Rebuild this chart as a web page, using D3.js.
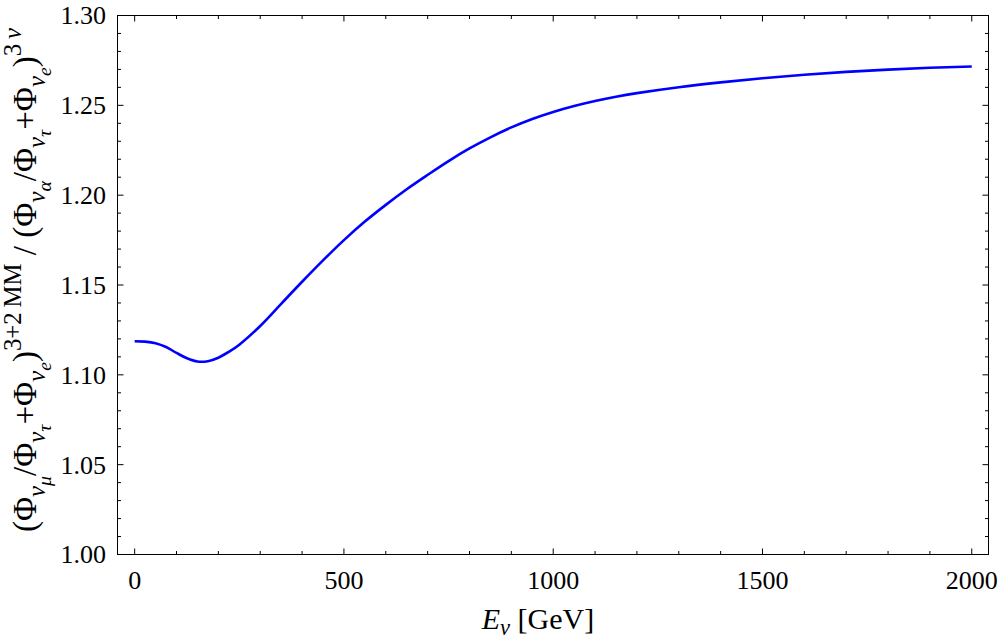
<!DOCTYPE html>
<html lang="en">
  <head>
    <meta charset="utf-8">
    <title>Flux ratio vs energy</title>
    <script src="https://d3js.org/d3.v7.min.js"></script>
    <style>
      body { margin: 0; background: #fff; }
      svg text { font-family: "Liberation Serif", "DejaVu Serif", serif; fill: #000; }
    </style>
  </head>
  <body>
    <svg id="plotarea" width="1000" height="643"></svg>
    <script>
      // values
      var energy = [0, 25, 50, 75, 100, 125, 150, 175, 200, 225, 250, 300, 350, 400, 450, 500,
                    550, 600, 650, 700, 750, 800, 850, 900, 950, 1000, 1050, 1100, 1150, 1200,
                    1300, 1400, 1500, 1600, 1700, 1800, 1900, 2000];
      var ratio = [1.1187, 1.1185, 1.1176, 1.1155, 1.1122, 1.1092, 1.1074, 1.1076, 1.1095, 1.1128,
                   1.1168, 1.1272, 1.1395, 1.1518, 1.1637, 1.1750, 1.1853, 1.1946, 1.2033,
                   1.2113, 1.2190, 1.2260, 1.2322, 1.2377, 1.2424, 1.2463, 1.2496, 1.2524,
                   1.2548, 1.2568, 1.2601, 1.2628, 1.2651, 1.2670, 1.2686, 1.2699, 1.2709, 1.2716];

      var xMajor = [0, 500, 1000, 1500, 2000];
      var xMinor = d3.range(0, 2001, 100);
      var yMajor = [1.00, 1.05, 1.10, 1.15, 1.20, 1.25, 1.30];
      var yMinor = d3.range(100, 131, 1).map(function(d) { return d / 100; });

      var svg = d3.select('#plotarea');

      // frame edges (don't call these top/left: window.top is read-only)
      var fLeft = 117.5, fRight = 988.5, fTop = 15.5, fBottom = 554.5;
      var x = d3.scaleLinear().domain([-41, 2040]).range([fLeft, fRight]);
      var y = d3.scaleLinear().domain([1.0, 1.3]).range([fBottom, fTop]);

      svg.append('rect')
        .attr('x', fLeft).attr('y', fTop)
        .attr('width', fRight - fLeft).attr('height', fBottom - fTop)
        .attr('fill', 'none').attr('stroke', '#000').attr('stroke-width', 1);

      var majLen = 6, minLen = 3.5;
      var tickG = svg.append('g').attr('stroke', '#000').attr('stroke-width', 1);

      function xTicks(vals, len) {
        vals.forEach(function(v) {
          var px = x(v);
          tickG.append('line').attr('x1', px).attr('x2', px).attr('y1', fBottom).attr('y2', fBottom - len);
          tickG.append('line').attr('x1', px).attr('x2', px).attr('y1', fTop).attr('y2', fTop + len);
        });
      }
      function yTicks(vals, len) {
        vals.forEach(function(v) {
          var py = y(v);
          tickG.append('line').attr('y1', py).attr('y2', py).attr('x1', fLeft).attr('x2', fLeft + len);
          tickG.append('line').attr('y1', py).attr('y2', py).attr('x1', fRight).attr('x2', fRight - len);
        });
      }
      xTicks(xMinor.filter(function(d) { return xMajor.indexOf(d) < 0; }), minLen);
      xTicks(xMajor, majLen);
      yTicks(yMinor.filter(function(d) { return Math.round(d * 100) % 5 !== 0; }), minLen);
      yTicks(yMajor, majLen);

      // tick labels
      svg.append('g').selectAll('text').data(xMajor).enter().append('text')
        .attr('x', function(d) { return x(d); })
        .attr('y', 589)
        .attr('text-anchor', 'middle')
        .attr('font-size', 26)
        .text(function(d) { return d; });

      svg.append('g').selectAll('text').data(yMajor).enter().append('text')
        .attr('x', 106)
        .attr('y', function(d) { return y(d); })
        .attr('dy', '0.34em')
        .attr('text-anchor', 'end')
        .attr('font-size', 26)
        .text(function(d) { return d.toFixed(2); });

      // curve
      var line = d3.line()
        .x(function(d, i) { return x(energy[i]); })
        .y(function(d) { return y(d); })
        .curve(d3.curveCatmullRom.alpha(0.5));

      svg.append('path')
        .datum(ratio)
        .attr('d', line)
        .attr('fill', 'none')
        .attr('stroke', '#0000ff')
        .attr('stroke-width', 2.6);

      // labels with sub/superscripts: level 0 base, -1 sub, -2 subsub, 1 sup
      function richText(sel, parts, base, subDrop) {
        var sizes = { '0': base, '-1': base * 0.75, '-2': base * 0.6, '1': base * 0.75 };
        var offs = { '0': 0, '-1': base * subDrop, '-2': base * (subDrop + 0.2), '1': -base * 0.45 };
        var cur = 0;
        parts.forEach(function(p) {
          var lv = String(p[1]);
          var ts = sel.append('tspan')
            .attr('font-size', sizes[lv])
            .attr('dy', offs[lv] - cur)
            .text(p[0]);
          if (p[2]) ts.attr('font-style', 'italic');
          cur = offs[lv];
        });
      }

      var xl = svg.append('text')
        .attr('x', 538).attr('y', 629)
        .attr('text-anchor', 'middle')
        .attr('font-size', 30);
      richText(xl, [['E', 0, 1], ['\u03bd', -1, 1], ['\u00a0[GeV]', 0]], 30, 0.2);

      var yParts = [
        ['(', 0], ['\u03a6', 0], ['\u03bd', -1, 1], ['\u03bc', -2, 1], ['/', 0],
        ['\u03a6', 0], ['\u03bd', -1, 1], ['\u03c4', -2, 1], ['+', 0],
        ['\u03a6', 0], ['\u03bd', -1, 1], ['e', -2, 1], [')', 0], ['3+2\u2009MM', 1],
        ['\u00a0/\u00a0', 0], ['(', 0], ['\u03a6', 0], ['\u03bd', -1, 1], ['\u03b1', -2, 1], ['/', 0],
        ['\u03a6', 0], ['\u03bd', -1, 1], ['\u03c4', -2, 1], ['+', 0],
        ['\u03a6', 0], ['\u03bd', -1, 1], ['e', -2, 1], [')', 0], ['3\u2009', 1], ['\u03bd', 1, 1]
      ];
      var yl = svg.append('text')
        .attr('transform', 'translate(36,280) rotate(-90)')
        .attr('text-anchor', 'middle')
        .attr('font-size', 33);
      richText(yl, yParts, 33, 0.26);
    </script>
  </body>
</html>
